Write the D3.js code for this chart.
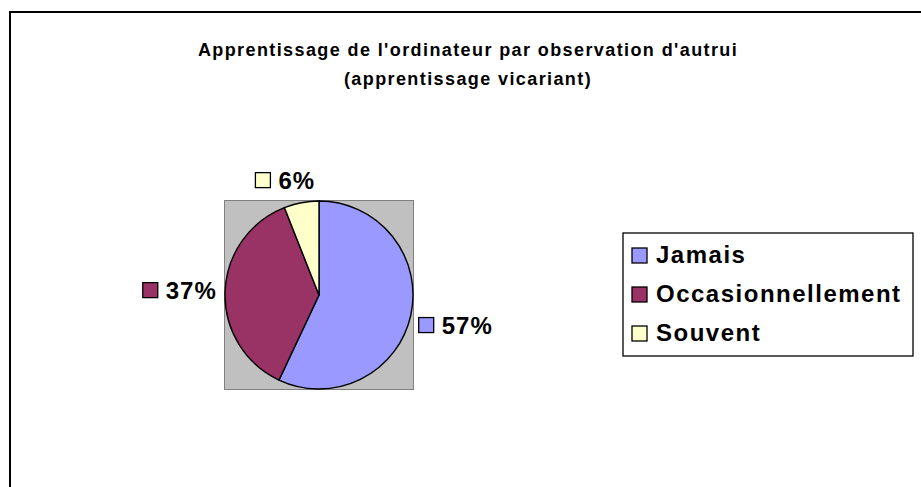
<!DOCTYPE html>
<html>
<head>
<meta charset="utf-8">
<script src="https://cdn.jsdelivr.net/npm/d3@7"></script>
<style>
  body { margin: 0; background: #fff; }
  text { font-family: "Liberation Sans", Arial, sans-serif; font-weight: bold; fill: #000; }
</style>
</head>
<body>
<svg></svg>
<script>
var width = 921,
	height = 487;

// data
var categories = ["Jamais", "Occasionnellement", "Souvent"];
var values = [57, 37, 6];
var colors = ["#9999ff", "#993366", "#ffffcc"];
var titleLines = ["Apprentissage de l'ordinateur par observation d'autrui", "(apprentissage vicariant)"];

var svg = d3.select("svg").attr("width", width).attr("height", height);

// chart frame (right and bottom edges fall off the page)
svg.append("rect")
	.attr("x", 10).attr("y", 12)
	.attr("width", 1000).attr("height", 1000)
	.attr("fill", "#fff").attr("stroke", "#000").attr("stroke-width", 2);

svg.append("g").selectAll("text").data(titleLines).enter().append("text")
	.attr("x", 468)
	.attr("y", (d, i) => 56 + i * 29)
	.attr("text-anchor", "middle")
	.style("font-size", "18px")
	.style("letter-spacing", "1.4px")
	.text((d) => d);

// plot area
var cx = 319, cy = 295, r = 94;
svg.append("rect")
	.attr("x", cx - r - 0.5).attr("y", cy - r - 0.5)
	.attr("width", 2 * r + 1).attr("height", 2 * r + 1)
	.attr("fill", "#c0c0c0").attr("stroke", "#808080").attr("stroke-width", 1);

var total = d3.sum(values);
var pie = d3.pie().sort(null).value((d) => d)(values);
var arc = d3.arc().innerRadius(0).outerRadius(r);
var pct = d3.format(".0%");

var g = svg.append("g").attr("transform", `translate(${cx},${cy})`);
g.selectAll("path").data(pie).enter().append("path")
	.attr("d", arc)
	.attr("fill", (d, i) => colors[i])
	.attr("stroke", "#000").attr("stroke-width", 1.4);

// data labels outside the pie: box centre sits on the mid-angle ray,
// pushed out far enough that the box clears the circle
pie.forEach((d, i) => {
	var a = (d.startAngle + d.endAngle) / 2;
	var dx = Math.sin(a), dy = -Math.cos(a);
	var lbl = g.append("g");
	lbl.append("rect")
		.attr("x", 0).attr("y", -16).attr("width", 15).attr("height", 15)
		.attr("fill", colors[i]).attr("stroke", "#000").attr("stroke-width", 1.3);
	var t = lbl.append("text").attr("x", 23).attr("y", 0)
		.style("font-size", "24px")
		.style("letter-spacing", "1px")
		.text(pct(d.value / total));
	var w = 23 + t.node().getComputedTextLength(), h = 18;
	var ext = Math.abs(dx) * w / 2 + Math.abs(dy) * h / 2;
	var rc = r + 8 + ext;
	var px = rc * dx - w / 2 - (Math.abs(dy) > 0.9 ? w * 0.2 : 0);
	var py = rc * dy + 8;
	lbl.attr("transform", `translate(${px},${py})`);
});

// legend
var legend = svg.append("g").attr("transform", "translate(623,233)");
legend.append("rect")
	.attr("width", 290).attr("height", 123)
	.attr("fill", "#fff").attr("stroke", "#000").attr("stroke-width", 1.3);
var item = legend.selectAll("g.item").data(categories).enter().append("g")
	.attr("class", "item")
	.attr("transform", (d, i) => `translate(9,${30 + i * 39})`);
item.append("rect")
	.attr("x", 0).attr("y", -15).attr("width", 15).attr("height", 15)
	.attr("fill", (d, i) => colors[i]).attr("stroke", "#000").attr("stroke-width", 1.3);
item.append("text").attr("x", 24).attr("y", 0)
	.style("font-size", "24px")
	.style("letter-spacing", "1.5px")
	.text((d) => d);
</script>
</body>
</html>
